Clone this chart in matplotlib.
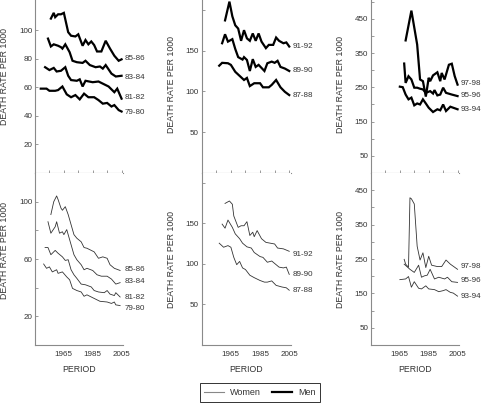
import matplotlib
matplotlib.use("Agg")
import matplotlib.pyplot as plt
from matplotlib.lines import Line2D

plt.rcParams['font.family'] = ['Liberation Sans', 'DejaVu Sans']

# -------------------------------------------------------
# Data
# -------------------------------------------------------

# men, cohorts 79-80 .. 85-86
m8586_yr = [1956, 1958, 1959, 1961, 1963, 1965, 1968, 1970, 1973, 1975, 1978, 1980, 1982, 1984, 1986, 1988, 1991, 1994, 1997, 2000, 2003, 2005]
m8586 = [108, 112, 109, 111, 111, 112, 98.5, 96, 95.5, 97, 89, 93, 90, 92, 89.5, 85, 85, 92.5, 87, 82, 78.5, 79.5]
m8384_yr = [1954, 1956, 1958, 1961, 1963, 1964, 1966, 1969, 1971, 1974, 1978, 1980, 1983, 1987, 1990, 1992, 1994, 1998, 2001, 2005]
m8384 = [94, 88.5, 90, 89, 88, 87, 90, 84.5, 78.5, 77.5, 77, 78.5, 75.5, 74, 74.5, 73, 75.5, 69.5, 67.5, 68]
m8182_yr = [1952, 1955, 1958, 1960, 1963, 1966, 1968, 1970, 1974, 1976, 1978, 1980, 1985, 1989, 1993, 1996, 2000, 2002, 2005]
m8182 = [74, 72, 73.5, 71, 71.5, 74, 68, 65, 64.5, 65.5, 60.5, 64.5, 63.5, 64, 62, 60.5, 56.5, 59, 52]
m7980_yr = [1949, 1953, 1955, 1959, 1961, 1964, 1967, 1970, 1973, 1976, 1979, 1982, 1986, 1989, 1992, 1995, 1998, 2000, 2003, 2005]
m7980 = [59, 59, 57.5, 57.5, 58, 60.5, 55, 53, 54.5, 51.5, 55.5, 53, 53, 51, 48.5, 49, 46.5, 47.5, 44, 43]

# women, cohorts 79-80 .. 85-86
w8586_yr = [1956, 1958, 1960, 1961, 1963, 1964, 1966, 1968, 1970, 1972, 1974, 1977, 1979, 1981, 1984, 1986, 1989, 1992, 1995, 1997, 2000, 2004]
w8586 = [91, 100, 104, 101.5, 95.5, 94, 96.5, 91, 84, 77, 74.5, 72, 68, 67.5, 66, 65, 60.5, 61.5, 60.5, 56, 53.5, 52]
w8384_yr = [1954, 1956, 1959, 1960, 1962, 1964, 1965, 1967, 1970, 1972, 1974, 1977, 1979, 1981, 1985, 1988, 1991, 1995, 1998, 2001, 2004]
w8384 = [86, 78, 82.5, 86, 78, 79, 77, 80.5, 70, 63, 59.5, 56, 52.5, 53.5, 52, 49, 48, 48, 46, 42.5, 43.5]
w8182_yr = [1952, 1954, 1956, 1959, 1961, 1964, 1966, 1968, 1970, 1972, 1974, 1977, 1980, 1984, 1986, 1989, 1993, 1995, 1997, 2000, 2001, 2004]
w8182 = [68, 68, 63, 66, 64, 61.5, 59, 59.5, 52.5, 49, 46.5, 42.5, 42, 40.5, 38, 37, 36.5, 38, 35.5, 34.5, 36.5, 33.5]
w7980_yr = [1951, 1953, 1955, 1957, 1960, 1961, 1964, 1967, 1969, 1971, 1974, 1977, 1979, 1981, 1986, 1990, 1995, 1998, 2000, 2001, 2004]
w7980 = [56.5, 53.5, 54.5, 51, 52.5, 50, 51, 47.5, 45.5, 39.5, 38, 37, 34, 35, 32.5, 30.5, 30, 29, 30, 28, 27.5]

# men, cohorts 87-88 .. 91-92
m9192_yr = [1961, 1964, 1966, 1968, 1970, 1972, 1974, 1976, 1978, 1980, 1982, 1984, 1986, 1989, 1991, 1994, 1996, 1998, 2001, 2003, 2005]
m9192 = [187, 210, 192, 181, 177, 162, 175, 165, 162, 171, 162, 171, 161, 153, 157, 157, 166, 162, 159, 160, 155]
m8990_yr = [1959, 1961, 1963, 1966, 1968, 1970, 1973, 1974, 1976, 1978, 1980, 1982, 1984, 1988, 1990, 1993, 1995, 1997, 1999, 2002, 2005]
m8990 = [159, 170, 161, 164, 152, 142, 139, 142, 138.5, 125, 139.5, 130, 132.5, 125, 134.5, 136.5, 135, 137.5, 130, 128, 125]
m8788_yr = [1957, 1959, 1963, 1965, 1968, 1971, 1974, 1976, 1978, 1981, 1985, 1987, 1991, 1993, 1996, 1999, 2002, 2005]
m8788 = [131.5, 135, 134.5, 132.5, 124, 119, 114, 116.5, 106.5, 110, 110, 105, 105, 108, 114, 105, 99.5, 95.5]

# women, cohorts 87-88 .. 91-92
w9192_yr = [1961, 1964, 1966, 1967, 1970, 1972, 1974, 1976, 1978, 1980, 1981, 1983, 1986, 1989, 1992, 1995, 1997, 2001, 2005]
w9192 = [174.5, 177.5, 173.5, 159, 145, 147, 147, 152, 135, 139, 133.5, 141, 131, 126.5, 125.5, 124.5, 119.5, 118.5, 115.5]
w8990_yr = [1959, 1961, 1963, 1966, 1968, 1971, 1973, 1976, 1979, 1981, 1985, 1987, 1990, 1993, 1996, 1998, 2001, 2003, 2005]
w8990 = [149, 144, 154, 145, 137, 131, 125.5, 121, 119.5, 114, 109, 108, 102, 103.5, 99, 96, 95, 96, 87]
w8788_yr = [1957, 1960, 1963, 1965, 1967, 1969, 1971, 1973, 1975, 1978, 1981, 1985, 1988, 1990, 1993, 1996, 2000, 2003, 2005]
w8788 = [125.5, 120.5, 122.5, 120.5, 108, 99, 103, 95, 93, 86, 83, 79.5, 77.5, 77.5, 79, 73.5, 71.5, 70.5, 67.5]

# men, cohorts 93-94 .. 97-98
m9798_yr = [1969, 1973, 1977, 1979, 1981, 1983, 1985, 1986, 1988, 1991, 1993, 1994, 1996, 1999, 2001, 2003, 2005]
m9798 = [387, 474, 375, 273, 268, 223, 278, 268, 285, 294, 268, 292, 273, 316, 319, 283, 258]
m9596_yr = [1968, 1969, 1971, 1973, 1975, 1977, 1979, 1981, 1983, 1986, 1988, 1989, 1991, 1993, 1995, 1997, 2001, 2005]
m9596 = [319.5, 263, 282.5, 273, 249, 249, 246, 244, 234, 239, 232, 242, 226.5, 229, 249, 234, 229, 224.5]
m9394_yr = [1965, 1967, 1969, 1971, 1973, 1975, 1977, 1979, 1981, 1983, 1985, 1988, 1991, 1993, 1995, 1997, 2000, 2002, 2005]
m9394 = [252, 250.5, 229, 215, 220, 197.5, 203, 200, 215, 203, 190.5, 178, 186, 183, 200, 181, 193.5, 190.5, 186]

# women, cohorts 93-94 .. 97-98
w9798_yr = [1968, 1969, 1971, 1972, 1973, 1975, 1977, 1979, 1981, 1983, 1985, 1987, 1991, 1994, 1997, 2000, 2005]
w9798 = [249, 235, 226, 428, 425, 410, 287, 247, 268, 225, 258, 232, 228, 228, 247, 235, 220]
w9596_yr = [1968, 1972, 1975, 1978, 1980, 1982, 1984, 1986, 1989, 1992, 1996, 1998, 2001, 2005]
w9596 = [235, 220, 211, 232, 197, 201, 203, 220, 192, 197, 192, 197, 184, 182]
w9394_yr = [1965, 1969, 1971, 1973, 1975, 1978, 1980, 1983, 1985, 1989, 1992, 1995, 1997, 2000, 2002, 2005]
w9394 = [190, 192, 199, 168, 184, 165, 163, 172, 163, 161, 155, 158, 161, 153, 151, 142]

# cohort labels and where their text sits
left_names = ["85-86", "83-84", "81-82", "79-80"]
mid_names = ["91-92", "89-90", "87-88"]
right_names = ["97-98", "95-96", "93-94"]

men_left_lab = [80, 67, 53, 42]
women_left_lab = [52.5, 44, 33, 25.5]
men_mid_lab = [155, 126, 95.5]
women_mid_lab = [112, 87, 67]
men_right_lab = [262, 226, 184]
women_right_lab = [229, 187, 140]

year_ticks = [1965, 1985, 2005]

# -------------------------------------------------------
# Figure
# -------------------------------------------------------

fig = plt.figure(figsize=(4.84, 4.03), dpi=100)

W, H = 484.0, 403.0
cols = [(35, 88), (201.7, 89), (371, 88)]
top_row = (0, 173)
bot_row = (173, 345)

grey = "#8a8a8a"
txt = "#333333"


def make_ax(col, row):
    x0, w = cols[col]
    y0, y1 = row
    ax = fig.add_axes([x0 / W, 1 - y1 / H, w / W, (y1 - y0) / H])
    ax.spines["top"].set_visible(False)
    ax.spines["right"].set_visible(False)
    for s in ["left", "bottom"]:
        ax.spines[s].set_color(grey)
        ax.spines[s].set_linewidth(0.8)
    ax.tick_params(colors=grey, labelcolor=txt, labelsize=5.8, direction="in",
                   length=2.5, width=0.6, pad=2)
    ax.tick_params(which="minor", colors=grey, direction="in", length=2.5, width=0.6)
    ax.set_xlim(1945, 2006)
    ax.set_ylabel("DEATH RATE PER 1000", fontsize=6.3, color=txt)
    return ax


panels = [
    # (col, men series, women series, names, men label y, women label y, ylims, major, minor)
    (0,
     [(m8586_yr, m8586), (m8384_yr, m8384), (m8182_yr, m8182), (m7980_yr, m7980)],
     [(w8586_yr, w8586), (w8384_yr, w8384), (w8182_yr, w8182), (w7980_yr, w7980)],
     left_names, men_left_lab, women_left_lab,
     (121, 120),
     ([20, 40, 60, 80, 100], [20, 60, 100]),
     ([], [40, 80])),
    (1,
     [(m9192_yr, m9192), (m8990_yr, m8990), (m8788_yr, m8788)],
     [(w9192_yr, w9192), (w8990_yr, w8990), (w8788_yr, w8788)],
     mid_names, men_mid_lab, women_mid_lab,
     (212, 212),
     ([50, 100, 150], [50, 100, 150]),
     ([200], [200])),
    (2,
     [(m9798_yr, m9798), (m9596_yr, m9596), (m9394_yr, m9394)],
     [(w9798_yr, w9798), (w9596_yr, w9596), (w9394_yr, w9394)],
     right_names, men_right_lab, women_right_lab,
     (505, 500),
     ([50, 150, 250, 350, 450], [50, 150, 250, 350, 450]),
     ([100, 200, 300, 400, 500], [100, 200, 300, 400])),
]

for col, men, women, names, mlab, wlab, ylims, major, minor in panels:
    # men on top
    ax = make_ax(col, top_row)
    for (yr, v), name, ly in zip(men, names, mlab):
        ax.plot(yr, v, color="black", lw=1.6, solid_joinstyle="miter")
        ax.annotate(name, xy=(2005, ly), xytext=(2.5, 0), textcoords="offset points",
                    fontsize=5.8, color=txt, va="center", ha="left", annotation_clip=False)
    ax.set_ylim(0, ylims[0])
    ax.set_yticks(major[0])
    ax.set_yticks(minor[0], minor=True)
    ax.set_xticks([1955, 1965, 1975, 1985, 1995, 2005])
    ax.set_xticklabels([])
    ax.yaxis.set_label_coords(-0.29, 0.56 if col == 0 else 0.51)

    # women below
    ax = make_ax(col, bot_row)
    for (yr, v), name, ly in zip(women, names, wlab):
        ax.plot(yr, v, color="#333333", lw=0.6)
        ax.annotate(name, xy=(2005, ly), xytext=(2.5, 0), textcoords="offset points",
                    fontsize=5.8, color=txt, va="center", ha="left", annotation_clip=False)
    ax.set_ylim(0, ylims[1])
    ax.set_yticks(major[1])
    ax.set_yticks(minor[1], minor=True)
    ax.set_xticks(year_ticks)
    ax.tick_params(axis="x", length=0, pad=4)
    ax.set_xlabel("PERIOD", fontsize=6.3, color=txt, labelpad=5)
    ax.yaxis.set_label_coords(-0.29, 0.55 if col == 0 else 0.5)

handles = [Line2D([], [], color="#888888", lw=0.8),
           Line2D([], [], color="black", lw=1.6)]
leg = fig.legend(handles, ["Women", "Men"], loc="center",
                 bbox_to_anchor=(260 / W, 1 - 392.5 / H), ncol=2, fontsize=6.5,
                 frameon=True, fancybox=False, handlelength=2.2, columnspacing=1.2,
                 handletextpad=0.7, borderpad=0.5, borderaxespad=0)
leg.get_frame().set_edgecolor("black")
leg.get_frame().set_linewidth(0.7)
for t in leg.get_texts():
    t.set_color(txt)

fig.savefig("out.png", dpi=100)
